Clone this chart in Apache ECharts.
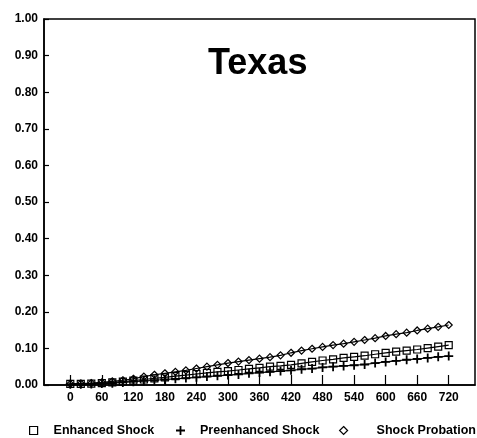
<!DOCTYPE html>
<html>
<head>
<meta charset="utf-8">
<script src="https://cdn.jsdelivr.net/npm/echarts@6/dist/echarts.min.js"></script>
<style>
html,body{margin:0;padding:0;background:#fff;}
#chart{width:477px;height:438px;}
</style>
</head>
<body>
<div id="chart"></div>
<script>
// Days since release (every 20 days)
var days = [0,20,40,60,80,100,120,140,160,180,200,220,240,260,280,300,320,340,360,
            380,400,420,440,460,480,500,520,540,560,580,600,620,640,660,680,700,720];
// Cumulative proportion values
var enhancedShock = [0.003,0.003,0.004,0.005,0.007,0.009,0.012,0.015,0.018,0.021,0.024,0.027,0.030,0.033,0.036,0.038,0.041,0.044,0.047,
                     0.050,0.052,0.055,0.059,0.063,0.067,0.070,0.074,0.077,0.080,0.084,0.088,0.091,0.094,0.097,0.101,0.105,0.109];
var preenhancedShock = [0.002,0.002,0.003,0.004,0.005,0.007,0.009,0.011,0.013,0.015,0.017,0.019,0.021,0.023,0.025,0.027,0.029,0.032,0.034,
                        0.036,0.038,0.040,0.043,0.045,0.048,0.050,0.052,0.054,0.056,0.060,0.063,0.066,0.069,0.071,0.074,0.077,0.079];
var shockProbation = [0.003,0.004,0.005,0.007,0.010,0.013,0.017,0.023,0.028,0.032,0.036,0.040,0.045,0.050,0.055,0.060,0.064,0.068,0.072,
                      0.076,0.081,0.088,0.094,0.099,0.104,0.109,0.113,0.118,0.123,0.128,0.134,0.139,0.143,0.149,0.154,0.159,0.164];
var xTickValues = [0,60,120,180,240,300,360,420,480,540,600,660,720];
var seriesNames = ['Enhanced Shock','Preenhanced Shock','Shock Probation'];
var titleText = 'Texas';

function pairs(ys){ return days.map(function(d,i){ return [d, ys[i]]; }); }

var FONT = '"Liberation Sans", Arial, Helvetica, sans-serif';
var plusPath = 'path://M4,0h2v4h4v2h-4v4h-2v-4h-4v-2h4z';

var chart = echarts.init(document.getElementById('chart'), null, {renderer:'canvas'});
var lineBase = {
  type:'line',
  showAllSymbol:true,
  lineStyle:{color:'#000', width:1.2},
  emphasis:{disabled:true},
  z:3
};
var legendText = {color:'#000', fontFamily:FONT, fontWeight:'bold', fontSize:12.5};

chart.setOption({
  animation:false,
  backgroundColor:'#fff',
  title:{
    text:titleText,
    left:203, top:41,
    textStyle:{fontFamily:FONT, fontWeight:'bold', fontSize:36, color:'#000'}
  },
  grid:{
    left:44, right:2, top:19, bottom:53,
    show:true, borderColor:'#000', borderWidth:1.5, backgroundColor:'transparent'
  },
  xAxis:{
    type:'value', min:-50, max:770,
    axisLine:{show:true, onZero:false, lineStyle:{color:'#000', width:1.5}},
    axisTick:{show:true, inside:true, length:10, customValues:xTickValues, lineStyle:{color:'#000', width:1.2}},
    axisLabel:{customValues:xTickValues, margin:7, color:'#000', fontFamily:FONT, fontWeight:'bold', fontSize:12},
    splitLine:{show:false}
  },
  yAxis:{
    type:'value', min:0, max:1, interval:0.1,
    axisLine:{show:true, onZero:false, lineStyle:{color:'#000', width:1.5}},
    axisTick:{show:true, inside:true, length:5, lineStyle:{color:'#000', width:1.2}},
    axisLabel:{margin:6, color:'#000', fontFamily:FONT, fontWeight:'bold', fontSize:12,
               formatter:function(v){ return v.toFixed(2); }},
    splitLine:{show:false}
  },
  legend:[
    {left:29, top:424, itemWidth:8, itemHeight:8, selectedMode:false, padding:0,
     textStyle:Object.assign({padding:[0,0,0,11]}, legendText),
     data:[{name:seriesNames[0], icon:'rect', itemStyle:{color:'#fff', borderColor:'#000', borderWidth:1.2}}]},
    {left:176, top:424, itemWidth:9, itemHeight:9, selectedMode:false, padding:0,
     textStyle:Object.assign({padding:[0,0,0,10]}, legendText),
     data:[{name:seriesNames[1], icon:plusPath, itemStyle:{color:'#000', borderWidth:0}}]},
    {left:339, top:424, itemWidth:8, itemHeight:8, selectedMode:false, padding:0,
     textStyle:Object.assign({padding:[0,0,0,24]}, legendText),
     data:[{name:seriesNames[2], icon:'diamond', itemStyle:{color:'#fff', borderColor:'#000', borderWidth:1.2}}]}
  ],
  series:[
    Object.assign({}, lineBase, {
      name:seriesNames[0], data:pairs(enhancedShock),
      symbol:'rect', symbolSize:7,
      itemStyle:{color:'rgba(255,255,255,0)', borderColor:'#000', borderWidth:1.2}
    }),
    Object.assign({}, lineBase, {
      name:seriesNames[1], data:pairs(preenhancedShock),
      symbol:plusPath, symbolSize:9,
      itemStyle:{color:'#000', borderWidth:0}
    }),
    Object.assign({}, lineBase, {
      name:seriesNames[2], data:pairs(shockProbation),
      symbol:'diamond', symbolSize:7,
      itemStyle:{color:'rgba(255,255,255,0)', borderColor:'#000', borderWidth:1.2}
    })
  ]
});
</script>
</body>
</html>
